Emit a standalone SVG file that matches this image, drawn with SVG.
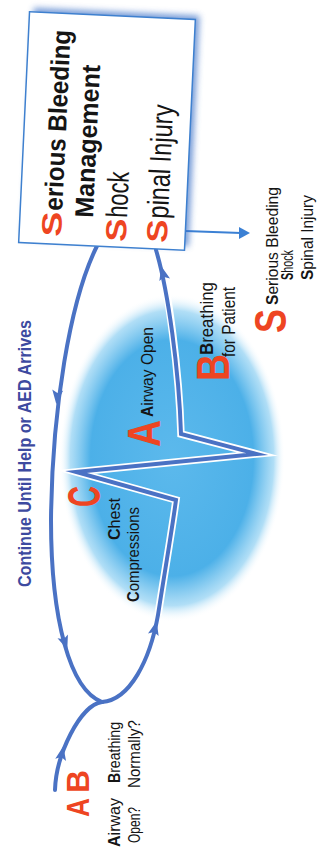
<svg xmlns="http://www.w3.org/2000/svg" width="323" height="850" viewBox="0 0 323 850">
<defs>
<style>
.cb{font-family:"Liberation Sans Narrow","Liberation Sans",Arial,sans-serif;font-weight:bold;fill:#151515}
.cr{font-family:"Liberation Sans Narrow","Liberation Sans",Arial,sans-serif;font-weight:normal;fill:#151515}
.red{font-family:"Liberation Sans",Arial,sans-serif;font-weight:bold;fill:#ee4522}
.b{font-weight:bold}
.loop{fill:none;stroke:#4a72c4;stroke-width:4;stroke-linecap:round;stroke-linejoin:miter;stroke-miterlimit:10}
.under{fill:none;stroke:#ffffff;stroke-width:7.5;stroke-linejoin:miter;stroke-miterlimit:10}
.ah{fill:#4a72c4}
</style>
<radialGradient id="glow" cx="50%" cy="50%" r="50%">
<stop offset="0" stop-color="#5cb9ec"/>
<stop offset="0.72" stop-color="#4cb0e8"/>
<stop offset="0.9" stop-color="#9dd6f4" stop-opacity="0.8"/>
<stop offset="1" stop-color="#ffffff" stop-opacity="0"/>
</radialGradient>
<filter id="blur" x="-20%" y="-20%" width="140%" height="140%"><feGaussianBlur stdDeviation="3"/></filter>
<path id="ah" d="M7,0 L-7,-5.5 L-4,0 L-7,5.5 Z"/>
</defs>
<rect width="323" height="850" fill="#ffffff"/>
<ellipse cx="172" cy="458" rx="113" ry="164" fill="url(#glow)"/>

<g id="connectors">
<path class="under" d="M158,615 C165,570 172,530 176,500 L76,472 L257,454 L181,434 C179,370 168,290 160,262"/>
<path class="loop" d="M97,246 C70,300 52,410 51,520 C51,620 70,690 102,702"/>
<path class="loop" d="M102,702 C130,700 150,660 158,615 C165,570 172,530 176,500 L76,472 L257,454 L181,434 C179,370 168,290 156,250"/>
<path class="loop" d="M55,790 C56,755 80,705 102,702"/>
<use href="#ah" class="ah" transform="translate(62,753) rotate(-79)"/>
<use href="#ah" class="ah" transform="translate(57,397) rotate(96)"/>
<use href="#ah" class="ah" transform="translate(65,643) rotate(71)"/>
<use href="#ah" class="ah" transform="translate(155,628) rotate(-76)"/>
<use href="#ah" class="ah" transform="translate(163,273) rotate(-104)"/>
<line x1="185" y1="231" x2="241" y2="233" stroke="#3b80d4" stroke-width="2"/>
<polygon points="250,233 239,227 239,239" fill="#3b80d4"/>
</g>

<g transform="translate(0,850) rotate(-90)">
<g id="node-box" transform="translate(719,107) rotate(2.7)">
<rect x="-111.5" y="-79" width="231" height="166" fill="#3a6fc6" opacity="0.7" filter="url(#blur)"/>
<rect x="-115.5" y="-83" width="231" height="166" fill="#ffffff" stroke="#3e80cf" stroke-width="1.5"/>
<text x="-108" y="-41" class="red" font-size="28" textLength="25" lengthAdjust="spacingAndGlyphs">S</text>
<text x="-82" y="-41" class="cb" font-size="26" textLength="181" lengthAdjust="spacingAndGlyphs">erious Bleeding</text>
<text x="-87.6" y="-10" class="cb" font-size="26" textLength="153" lengthAdjust="spacingAndGlyphs">Management</text>
<text x="-110" y="24" class="red" font-size="29" textLength="23" lengthAdjust="spacingAndGlyphs">S</text>
<text x="-86" y="24" class="cr" font-size="30" textLength="46" lengthAdjust="spacingAndGlyphs">hock</text>
<text x="-109" y="65" class="red" font-size="29" textLength="23" lengthAdjust="spacingAndGlyphs">S</text>
<text x="-85" y="65" class="cr" font-size="30" textLength="114" lengthAdjust="spacingAndGlyphs">pinal Injury</text>
</g>

<g id="label-continue">
<text x="263" y="31" class="cb" font-size="19" style="fill:#3d4aa0" textLength="267" lengthAdjust="spacingAndGlyphs">Continue Until Help or AED Arrives</text>
</g>

<g id="node-check">
<text x="33" y="89" class="red" font-size="31" textLength="19" lengthAdjust="spacingAndGlyphs">A</text>
<text x="57" y="89" class="red" font-size="31" textLength="23" lengthAdjust="spacingAndGlyphs">B</text>
<text x="3" y="120" class="cr" font-size="17" textLength="49" lengthAdjust="spacingAndGlyphs"><tspan class="b">A</tspan>irway</text>
<text x="7" y="140" class="cr" font-size="17" textLength="36" lengthAdjust="spacingAndGlyphs">Open?</text>
<text x="67" y="120" class="cr" font-size="17" textLength="61" lengthAdjust="spacingAndGlyphs"><tspan class="b">B</tspan>reathing</text>
<text x="62" y="140" class="cr" font-size="17" textLength="68" lengthAdjust="spacingAndGlyphs">Normally?</text>
</g>

<g id="node-C">
<text x="343" y="100" class="red" font-size="46" textLength="21" lengthAdjust="spacingAndGlyphs">C</text>
<text x="310" y="120" class="cr" font-size="17" textLength="42" lengthAdjust="spacingAndGlyphs"><tspan class="b">C</tspan>hest</text>
<text x="248" y="139" class="cr" font-size="17" textLength="95" lengthAdjust="spacingAndGlyphs"><tspan class="b">C</tspan>ompressions</text>
</g>

<g id="node-A">
<text x="403" y="160" class="red" font-size="46" textLength="27" lengthAdjust="spacingAndGlyphs">A</text>
<text x="433" y="153" class="cr" font-size="17" textLength="90" lengthAdjust="spacingAndGlyphs"><tspan class="b">A</tspan>irway Open</text>
</g>

<g id="node-B">
<text x="469" y="229" class="red" font-size="46" textLength="27" lengthAdjust="spacingAndGlyphs">B</text>
<text x="495" y="213" class="cr" font-size="18" textLength="73" lengthAdjust="spacingAndGlyphs"><tspan class="b">B</tspan>reathing</text>
<text x="493" y="235" class="cr" font-size="18" textLength="70" lengthAdjust="spacingAndGlyphs">for Patient</text>
</g>

<g id="node-S">
<text x="517" y="286" class="red" font-size="44" textLength="24" lengthAdjust="spacingAndGlyphs">S</text>
<text x="545" y="278" class="cr" font-size="17" textLength="118" lengthAdjust="spacingAndGlyphs"><tspan class="b">S</tspan>erious Bleeding</text>
<text x="570" y="293" class="cr" font-size="17" textLength="30" lengthAdjust="spacingAndGlyphs"><tspan class="b">S</tspan>hock</text>
<text x="570" y="313" class="cr" font-size="17" textLength="85" lengthAdjust="spacingAndGlyphs"><tspan class="b">S</tspan>pinal Injury</text>
</g>
</g>
</svg>
